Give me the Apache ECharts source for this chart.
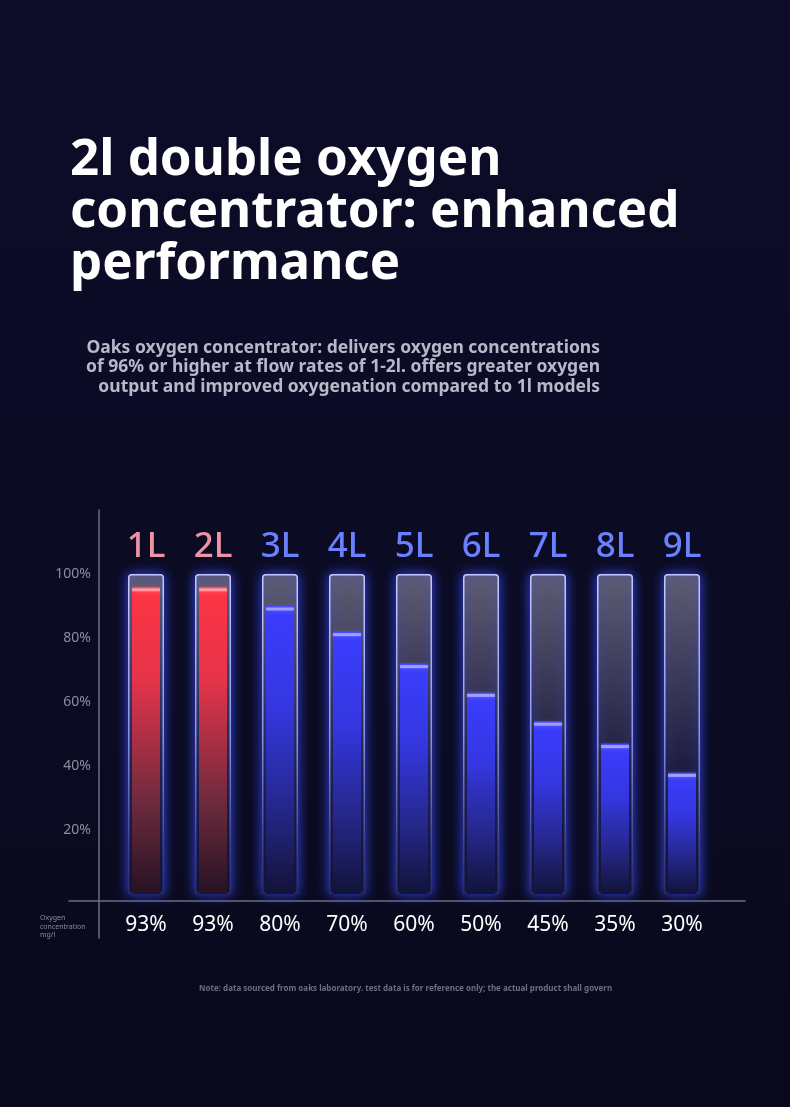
<!DOCTYPE html>
<html>
<head>
<meta charset="utf-8">
<script src="https://cdn.jsdelivr.net/npm/echarts@6/dist/echarts.min.js"></script>
<style>
    html, body { margin: 0; padding: 0; background: #0b0a22; }
    #js-chart { width: 790px; height: 1107px; }
</style>
</head>
<body>
<div id="js-chart"></div>
<script>
/*data*/
var flowRates = ['1L', '2L', '3L', '4L', '5L', '6L', '7L', '8L', '9L'];
var concentrationLabels = ['93%', '93%', '80%', '70%', '60%', '50%', '45%', '35%', '30%'];
var fillLevels = [96, 96, 90, 82, 72, 63, 54, 47, 38];
var trackLevels = [100, 100, 100, 100, 100, 100, 100, 100, 100];

var FONT = '"Noto Sans", "Open Sans", sans-serif';

function grad(stops) {
    return new echarts.graphic.LinearGradient(0, 0, 0, 1, stops.map(function (s) {
        return {offset: s[0], color: s[1]};
    }));
}

// 1-2L bars are red, the rest blue
function isRed(i) { return i < 2; }

var trackData = trackLevels.map(function (v, i) {
    return {
        value: v,
        label: {color: isRed(i) ? '#ee93a3' : '#6a80ff'}
    };
});

var fillData = fillLevels.map(function (v, i) {
    return {
        value: v,
        itemStyle: {
            color: isRed(i)
                ? grad([[0, '#ff3444'], [0.3, '#e6344a'], [0.7, '#6e2a3e'], [1, '#261222']])
                : grad([[0, '#3b3dff'], [0.35, '#3437e0'], [0.7, '#25278a'], [1, '#121338']])
        }
    };
});

var chart = echarts.init(document.getElementById('js-chart'));
var option = {
    backgroundColor: grad([[0, '#0d0c28'], [0.5, '#0b0b24'], [1, '#09091c']]),
    textStyle: {fontFamily: FONT},
    title: [{
        text: '2l double oxygen\nconcentrator: enhanced\nperformance',
        left: 70,
        top: 134,
        padding: 0,
        textStyle: {
            color: '#ffffff',
            fontSize: 51,
            fontWeight: 'bold',
            lineHeight: 52,
            fontFamily: FONT
        }
    }, {
        text: 'Oaks oxygen concentrator: delivers oxygen concentrations\nof 96% or higher at flow rates of 1-2l. offers greater oxygen\noutput and improved oxygenation compared to 1l models',
        left: 600,
        top: 338,
        padding: 0,
        textAlign: 'right',
        textStyle: {
            color: '#b8b8c8',
            fontSize: 17.5,
            fontWeight: 'bold',
            lineHeight: 19.5,
            fontFamily: FONT
        }
    }, {
        text: 'Oxygen\nconcentration\nmg/l',
        left: 40,
        top: 914,
        padding: 0,
        textStyle: {
            color: '#8a8aa0',
            fontSize: 7,
            fontWeight: 'normal',
            lineHeight: 8.5,
            fontFamily: FONT
        }
    }, {
        text: 'Note: data sourced from oaks laboratory. test data is for reference only; the actual product shall govern',
        left: 199,
        top: 985,
        padding: 0,
        textStyle: {
            color: '#6e6e82',
            fontSize: 8,
            fontWeight: 'bold',
            fontFamily: FONT
        }
    }],
    grid: [
        {left: 112.5, right: 74.5, top: 510, bottom: 213},
        {left: 69, right: 45, top: 510, bottom: 169}
    ],
    xAxis: [{
        type: 'category',
        gridIndex: 0,
        data: flowRates,
        offset: 7,
        axisLine: {show: false},
        axisTick: {show: false},
        axisLabel: {
            margin: 14,
            color: '#ffffff',
            fontSize: 21,
            fontFamily: FONT,
            formatter: function (v, i) { return concentrationLabels[i]; }
        }
    }, {
        type: 'category',
        gridIndex: 0,
        data: flowRates,
        show: false
    }, {
        type: 'value',
        gridIndex: 1,
        min: 0,
        max: 1,
        offset: -37,
        axisLine: {show: true, onZero: false, lineStyle: {color: '#6c6c84', width: 1.5}},
        axisTick: {show: false},
        axisLabel: {show: false},
        splitLine: {show: false}
    }],
    yAxis: [{
        type: 'value',
        gridIndex: 0,
        min: 0,
        max: 120,
        interval: 20,
        offset: 13.5,
        axisLine: {show: false},
        axisTick: {show: false},
        splitLine: {show: false},
        axisLabel: {
            margin: 8,
            color: '#8c8ca2',
            fontSize: 14,
            fontFamily: FONT,
            formatter: function (v) { return (v === 0 || v === 120) ? '' : v + '%'; }
        }
    }, {
        type: 'value',
        gridIndex: 1,
        min: 0,
        max: 1,
        offset: -30,
        axisLine: {show: true, onZero: false, lineStyle: {color: '#6c6c84', width: 1.5}},
        axisTick: {show: false},
        axisLabel: {show: false},
        splitLine: {show: false}
    }],
    series: [{
        name: 'track',
        type: 'bar',
        xAxisIndex: 0,
        yAxisIndex: 0,
        barWidth: 36,
        data: trackData,
        itemStyle: {
            color: grad([[0, '#5e5c72'], [0.3, '#3e3c5a'], [0.6, '#1e1d40'], [0.85, '#121230'], [1, '#0d0d28']]),
            borderColor: grad([[0, '#c4caff'], [0.5, '#8a94e8'], [0.85, '#3c4090'], [1, '#2a2c60']]),
            borderWidth: 1.5,
            borderRadius: [3, 3, 0, 0],
            shadowBlur: 12,
            shadowColor: 'rgba(55,75,255,0.9)'
        },
        label: {
            show: true,
            position: 'top',
            distance: 9,
            fontSize: 35,
            fontWeight: 500,
            fontFamily: FONT,
            formatter: function (p) { return flowRates[p.dataIndex]; }
        },
        z: 2
    }, {
        name: 'fill',
        type: 'bar',
        xAxisIndex: 1,
        yAxisIndex: 0,
        barWidth: 28,
        data: fillData,
        z: 3
    }, {
        name: 'fill-top',
        type: 'pictorialBar',
        xAxisIndex: 1,
        yAxisIndex: 0,
        symbol: 'rect',
        symbolSize: [28, 3],
        symbolPosition: 'end',
        symbolOffset: [0, '50%'],
        data: fillLevels,
        itemStyle: {
            color: 'rgba(255,255,255,0.45)',
            shadowBlur: 4,
            shadowColor: 'rgba(255,255,255,0.5)'
        },
        z: 4
    }]
};
chart.setOption(option);
</script>
</body>
</html>
